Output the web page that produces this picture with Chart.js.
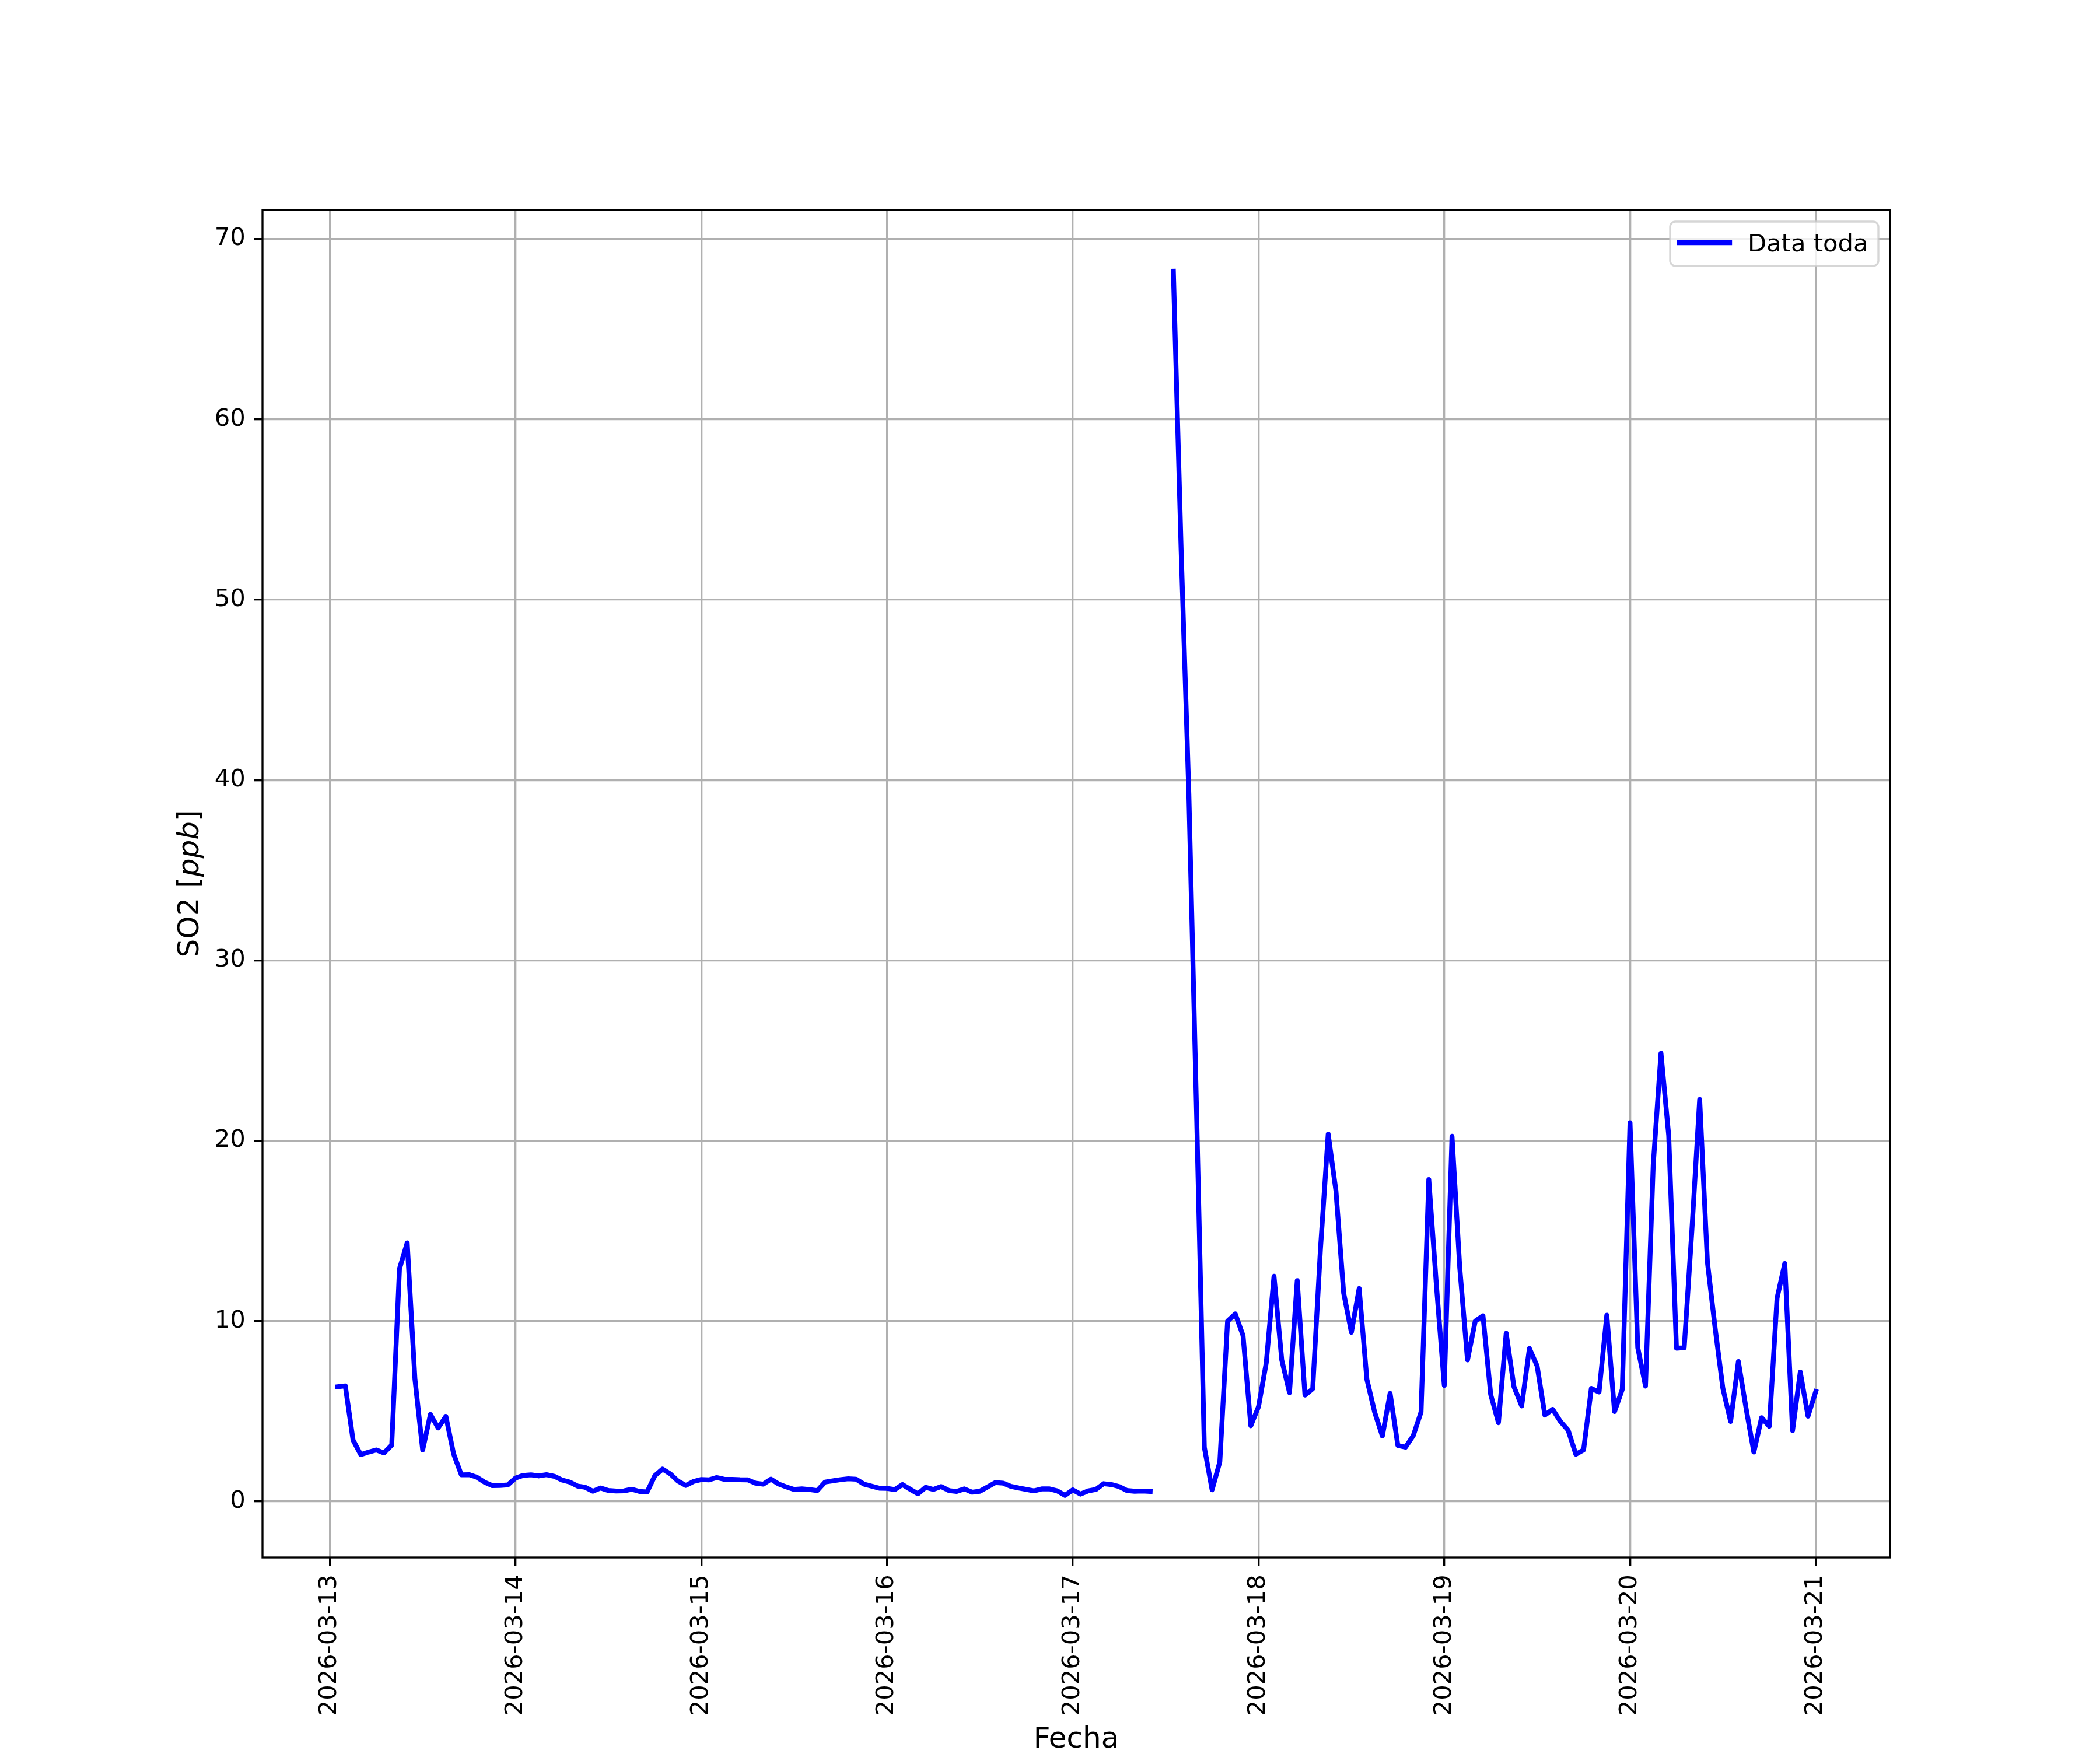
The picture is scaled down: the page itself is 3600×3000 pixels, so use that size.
<!DOCTYPE html>
<html>
<head>
<meta charset="utf-8">
<script src="https://cdn.jsdelivr.net/npm/chart.js@4.4.1/dist/chart.umd.min.js"></script>
<style>
  html, body { margin: 0; padding: 0; background: #fff; }
  canvas { display: block; }
</style>
</head>
<body>
<canvas id="lineChart" width="3600" height="3000" style="width:3600px;height:3000px"></canvas>
<script>
// hourly SO2, hours counted from 2026-03-13 00:00 (one row per day)
const so2 = [
  6.36, 6.41, 3.41, 2.60, 2.74, 2.86, 2.69, 3.13, 12.9, 14.34, 6.78, 2.86, 4.83, 4.08, 4.72, 2.64, 1.48, 1.49, 1.35, 1.07, 0.88, 0.89, 0.92, 1.30,
  1.45, 1.48, 1.42, 1.49, 1.40, 1.19, 1.08, 0.86, 0.79, 0.57, 0.75, 0.61, 0.58, 0.59, 0.68, 0.56, 0.53, 1.43, 1.80, 1.53, 1.13, 0.89, 1.11, 1.22,
  1.20, 1.33, 1.23, 1.23, 1.21, 1.20, 1.02, 0.96, 1.24, 0.97, 0.81, 0.67, 0.70, 0.66, 0.61, 1.08, 1.15, 1.21, 1.26, 1.24, 0.97, 0.85, 0.74, 0.73,
  0.66, 0.94, 0.68, 0.43, 0.79, 0.67, 0.83, 0.61, 0.56, 0.70, 0.52, 0.57, 0.81, 1.05, 1.02, 0.84, 0.75, 0.67, 0.59, 0.70, 0.70, 0.59, 0.34, 0.65,
  0.41, 0.59, 0.67, 0.99, 0.94, 0.83, 0.61, 0.57, 0.58, 0.56, null, null, 68.2, 52.8, 39.2, 21.5, 3.0, 0.65, 2.2, 10.0, 10.4, 9.2, 4.2, 5.26,
  7.70, 12.49, 7.85, 6.04, 12.25, 5.90, 6.25, 14.0, 20.37, 17.23, 11.56, 9.38, 11.81, 6.77, 4.96, 3.63, 6.0, 3.11, 3.01, 3.66, 4.96, 17.85, 11.9, 6.44,
  20.25, 12.96, 7.85, 10.0, 10.3, 5.93, 4.37, 9.33, 6.37, 5.30, 8.49, 7.51, 4.79, 5.11, 4.44, 3.96, 2.62, 2.86, 6.27, 6.07, 10.33, 4.99, 6.22, 21.0,
  8.53, 6.40, 18.67, 24.85, 20.29, 8.50, 8.53, 15.08, 22.29, 13.28, 9.61, 6.27, 4.44, 7.76, 5.16, 2.74, 4.65, 4.17, 11.28, 13.2, 3.93, 7.18, 4.73, 6.10,
];
const hours = so2.map((_, i) => i + 1);

const xTickHours = [0, 24, 48, 72, 96, 120, 144, 168, 192];
const xTickLabels = ["2026-03-13", "2026-03-14", "2026-03-15", "2026-03-16", "2026-03-17", "2026-03-18", "2026-03-19", "2026-03-20", "2026-03-21"];
const yTicks = [0, 10, 20, 30, 40, 50, 60, 70];

const FONT = "DejaVu Sans";
const PT = 300 / 72;

Chart.defaults.font.family = FONT;
Chart.defaults.color = "#000";

// frame, legend and axis titles, drawn the matplotlib way
const decorations = {
  id: "decorations",
  afterDraw(chart) {
    const { ctx, chartArea: a } = chart;
    ctx.save();

    // spines
    ctx.strokeStyle = "#000";
    ctx.lineWidth = 0.8 * PT;
    ctx.strokeRect(a.left, a.top, a.right - a.left, a.bottom - a.top);

    // legend
    ctx.beginPath();
    ctx.roundRect(2863, 380, 357, 76, 9);
    ctx.fillStyle = "rgba(255,255,255,0.8)";
    ctx.fill();
    ctx.strokeStyle = "rgba(204,204,204,0.8)";
    ctx.lineWidth = 0.8 * PT;
    ctx.stroke();

    ctx.beginPath();
    ctx.moveTo(2879, 416);
    ctx.lineTo(2965, 416);
    ctx.strokeStyle = "#0000ff";
    ctx.lineWidth = 2 * PT;
    ctx.lineCap = "square";
    ctx.stroke();

    ctx.fillStyle = "#000";
    ctx.font = `${10 * PT}px "${FONT}"`;
    ctx.textAlign = "left";
    ctx.textBaseline = "alphabetic";
    ctx.fillText("Data toda", 2996, 431);

    // x title
    ctx.font = `${12 * PT}px "${FONT}"`;
    ctx.textAlign = "center";
    ctx.fillText("Fecha", (a.left + a.right) / 2, 2996);

    // y title with italic unit
    const parts = [["SO2 [", "normal"], ["ppb", "italic"], ["]", "normal"]];
    let total = 0;
    for (const [t, s] of parts) {
      ctx.font = `${s} ${12 * PT}px "${FONT}"`;
      total += ctx.measureText(t).width;
    }
    ctx.translate(340, (a.top + a.bottom) / 2);
    ctx.rotate(-Math.PI / 2);
    ctx.textAlign = "left";
    let x = -total / 2;
    for (const [t, s] of parts) {
      ctx.font = `${s} ${12 * PT}px "${FONT}"`;
      ctx.fillText(t, x, 0);
      x += ctx.measureText(t).width;
    }
    ctx.restore();
  },
};

new Chart(document.getElementById("lineChart").getContext("2d"), {
  type: "line",
  data: {
    datasets: [
      {
        label: "Data toda",
        data: hours.map((h, i) => ({ x: h, y: so2[i] })),
        borderColor: "#0000ff",
        borderWidth: 2 * PT,
        borderCapStyle: "square",
        borderJoinStyle: "round",
        pointRadius: 0,
        tension: 0,
        fill: false,
        spanGaps: false,
      },
    ],
  },
  plugins: [decorations],
  options: {
    responsive: false,
    animation: false,
    devicePixelRatio: 1,
    layout: {
      padding: { top: 360, right: 360, left: 0, bottom: 0 },
    },
    plugins: {
      legend: { display: false },
      tooltip: { enabled: false },
    },
    scales: {
      x: {
        type: "linear",
        min: -8.7,
        max: 201.6,
        afterFit: (scale) => { scale.height = 330; },
        afterBuildTicks: (scale) => { scale.ticks = xTickHours.map((v) => ({ value: v })); },
        ticks: {
          autoSkip: false,
          maxRotation: 90,
          minRotation: 90,
          padding: 3.5 * PT,
          font: { size: 10 * PT },
          callback: (v, i) => xTickLabels[i],
        },
        grid: {
          color: "#b0b0b0",
          lineWidth: 0.8 * PT,
          tickColor: "#000",
          tickLength: 3.5 * PT,
          tickWidth: 0.8 * PT,
        },
        border: { display: false },
      },
      y: {
        min: -3.1,
        max: 71.6,
        afterFit: (scale) => { scale.width = 450; },
        afterBuildTicks: (scale) => { scale.ticks = yTicks.map((v) => ({ value: v })); },
        ticks: {
          padding: 3.5 * PT,
          font: { size: 10 * PT },
          callback: (v) => String(v),
        },
        grid: {
          color: "#b0b0b0",
          lineWidth: 0.8 * PT,
          tickColor: "#000",
          tickLength: 3.5 * PT,
          tickWidth: 0.8 * PT,
        },
        border: { display: false },
      },
    },
  },
});
</script>
</body>
</html>
